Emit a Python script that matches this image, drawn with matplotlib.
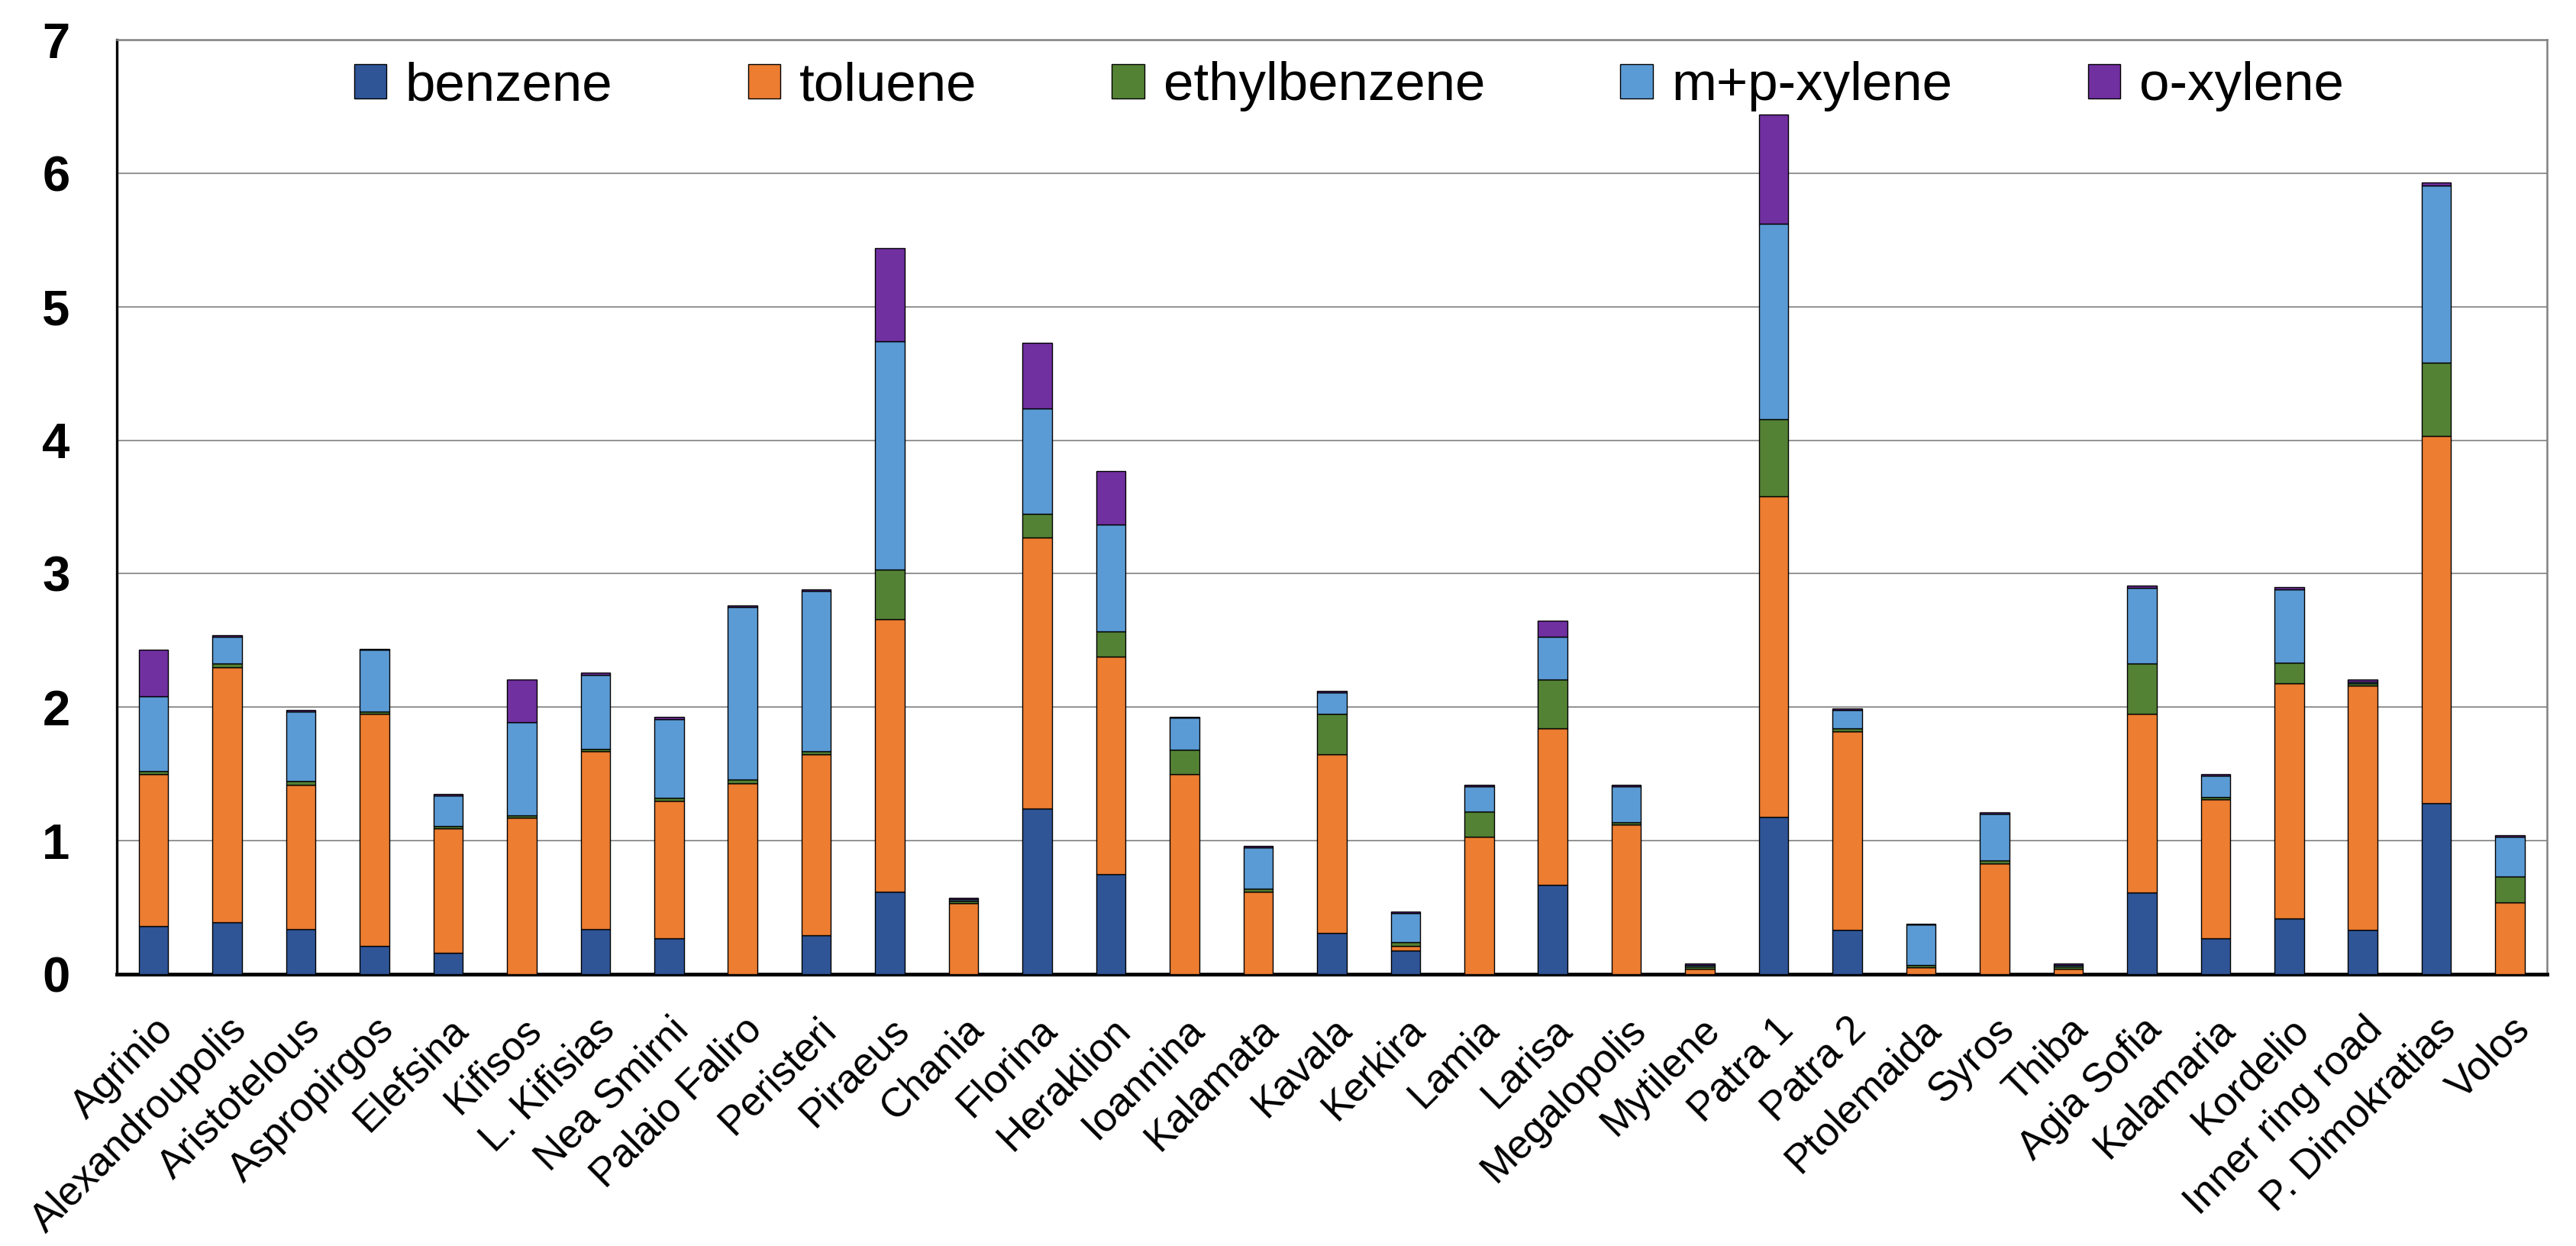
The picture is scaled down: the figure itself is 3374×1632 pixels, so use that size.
import numpy as np
import matplotlib
matplotlib.use("Agg")
import matplotlib.pyplot as plt
from matplotlib import font_manager

sites = ["Agrinio", "Alexandroupolis", "Aristotelous", "Aspropirgos", "Elefsina",
         "Kifisos", "L. Kifisias", "Nea Smirni", "Palaio Faliro", "Peristeri",
         "Piraeus", "Chania", "Florina", "Heraklion", "Ioannina", "Kalamata",
         "Kavala", "Kerkira", "Lamia", "Larisa", "Megalopolis", "Mytilene",
         "Patra 1", "Patra 2", "Ptolemaida", "Syros", "Thiba", "Agia Sofia",
         "Kalamaria", "Kordelio", "Inner ring road", "P. Dimokratias", "Volos"]

benzene = [0.36, 0.39, 0.34, 0.21, 0.16, 0.0, 0.34, 0.27, 0.0, 0.29,
           0.62, 0.0, 1.24, 0.75, 0.0, 0.0, 0.31, 0.18, 0.0, 0.67,
           0.0, 0.0, 1.18, 0.33, 0.0, 0.0, 0.0, 0.61, 0.27, 0.42,
           0.33, 1.28, 0.0]
toluene = [1.14, 1.91, 1.08, 1.74, 0.93, 1.17, 1.33, 1.03, 1.43, 1.36,
           2.04, 0.53, 2.03, 1.63, 1.50, 0.62, 1.34, 0.03, 1.03, 1.17,
           1.12, 0.04, 2.40, 1.49, 0.05, 0.83, 0.04, 1.34, 1.04, 1.76,
           1.83, 2.75, 0.54]
ethylbenzene = [0.02, 0.03, 0.03, 0.02, 0.02, 0.02, 0.02, 0.02, 0.03, 0.02,
                0.37, 0.02, 0.18, 0.19, 0.18, 0.02, 0.30, 0.03, 0.19, 0.37,
                0.02, 0.02, 0.58, 0.02, 0.02, 0.02, 0.02, 0.38, 0.02, 0.155,
                0.02, 0.55, 0.19]
mp_xylene = [0.56, 0.20, 0.52, 0.46, 0.23, 0.70, 0.55, 0.59, 1.29, 1.20,
             1.71, 0.01, 0.79, 0.80, 0.24, 0.31, 0.16, 0.22, 0.19, 0.32,
             0.27, 0.01, 1.46, 0.14, 0.30, 0.35, 0.01, 0.565, 0.16, 0.545,
             0.01, 1.33, 0.30]
o_xylene = [0.35, 0.01, 0.01, 0.005, 0.01, 0.32, 0.02, 0.02, 0.01, 0.015,
            0.70, 0.01, 0.49, 0.40, 0.01, 0.01, 0.01, 0.01, 0.01, 0.12,
            0.01, 0.01, 0.82, 0.01, 0.01, 0.01, 0.01, 0.015, 0.01, 0.02,
            0.02, 0.02, 0.01]

series = [("benzene", benzene, "#2F5597"),
          ("toluene", toluene, "#ED7D31"),
          ("ethylbenzene", ethylbenzene, "#548235"),
          ("m+p-xylene", mp_xylene, "#5B9BD5"),
          ("o-xylene", o_xylene, "#7030A0")]

# the original uses Arial Narrow; take the narrow Liberation face if it is there
names = {f.name for f in font_manager.fontManager.ttflist}
if "Liberation Sans Narrow" in names:
    plt.rcParams["font.family"] = ["Liberation Sans Narrow", "DejaVu Sans"]
    fs_leg, fs_y, fs_x = 60, 49, 44
else:
    plt.rcParams["font.family"] = ["Liberation Sans", "DejaVu Sans"]
    fs_leg, fs_y, fs_x = 51, 47, 38

fig = plt.figure(figsize=(33.74, 16.32), dpi=100)
ax = fig.add_axes([0.0453, 0.2181, 0.9434, 0.7500])

x = np.arange(len(sites))
bottom = np.zeros(len(sites))
for name, vals, col in series:
    vals = np.array(vals)
    ax.bar(x, vals, 0.4, bottom=bottom, color=col, edgecolor="black",
           linewidth=1.0, label=name, zorder=3)
    bottom += vals

ax.set_xlim(-0.5, len(sites) - 0.5)
ax.set_ylim(0, 7)
ax.set_yticks(range(8))
ax.grid(axis="y", color="#808080", linewidth=1.2, zorder=0)

ax.set_xticks(x)
ax.set_xticklabels(sites, rotation=45, ha="right", rotation_mode="anchor",
                   fontsize=fs_x)
ax.tick_params(axis="x", length=0, pad=34)
ax.tick_params(axis="y", length=0, pad=44, labelsize=fs_y)
for t in ax.get_yticklabels():
    t.set_fontweight("bold")

ax.spines["left"].set_linewidth(2.4)
ax.spines["bottom"].set_linewidth(3.5)
ax.spines["left"].set_color("black")
ax.spines["bottom"].set_color("black")
for s in ("top", "right"):
    ax.spines[s].set_color("#808080")
    ax.spines[s].set_linewidth(1.8)

ax.legend(loc="center", bbox_to_anchor=(0.507, 0.950), ncol=5, frameon=False,
          fontsize=fs_leg, handlelength=0.6, handleheight=0.6,
          handletextpad=0.35, columnspacing=2.5)

fig.savefig("out.png", dpi=100)
